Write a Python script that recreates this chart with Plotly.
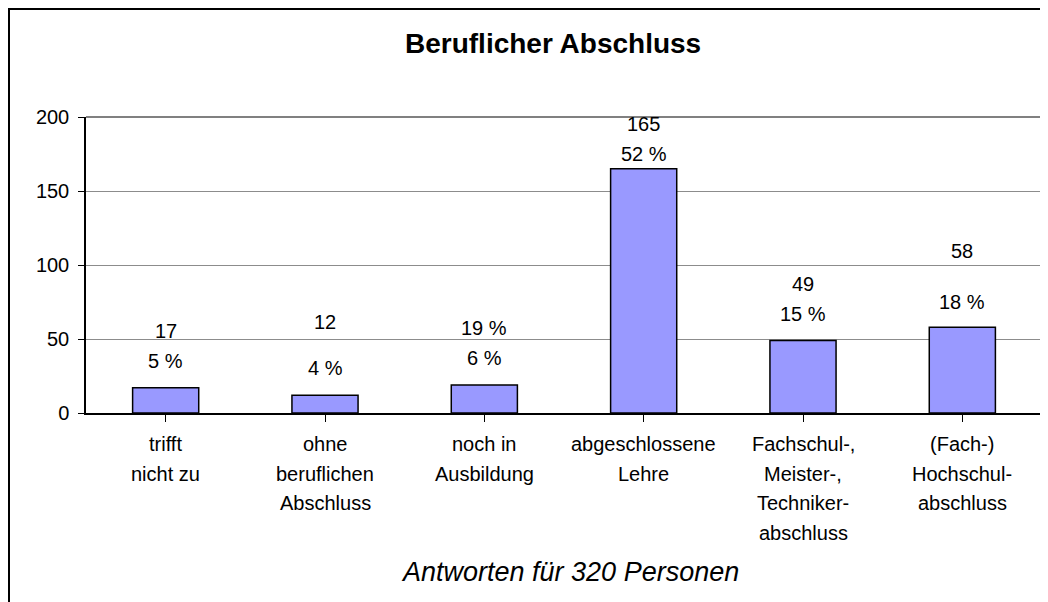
import plotly.graph_objects as go

# ---- data ----
categories = ["trifft\nnicht zu", "ohne\nberuflichen\nAbschluss", "noch in\nAusbildung",
              "abgeschlossene\nLehre", "Fachschul-,\nMeister-,\nTechniker-\nabschluss",
              "(Fach-)\nHochschul-\nabschluss"]
counts = [17, 12, 19, 165, 49, 58]
count_labels = ["17", "12", "19 %", "165", "49", "58"]
pct_labels = ["5 %", "4 %", "6 %", "52 %", "15 %", "18 %"]
y_ticks = [0, 50, 100, 150, 200]
title_text = "Beruflicher Abschluss"
subtitle_text = "Antworten für 320 Personen"

# ---- layout (pixel geometry, in reference-window coordinates) ----
OFF = 8                      # page body margin
W, H = 1048 - OFF, 602 - OFF
L, R, T, B = 86, 1042, 117, 413
count_shift = [57, 73, 57, 45, 56, 76]
pct_shift = [27, 27, 27, 15, 26, 25]
FONT = "Liberation Sans, Arial, sans-serif"
LBL = 20

def px2x(px):
    return (px - L) / (R - L)

def py2y(py):
    return (B - py) / (B - T)

cat_ids = list(range(len(categories)))

fig = go.Figure()
fig.add_trace(go.Bar(
    x=cat_ids, y=counts,
    marker=dict(color="#9999FF", line=dict(color="black", width=1.5)),
    width=0.415, hoverinfo="skip",
))

ann = []
for i, v in enumerate(counts):
    ann.append(dict(x=i, y=v, xref="x", yref="y", text=count_labels[i], showarrow=False,
                    yshift=count_shift[i], yanchor="middle", font=dict(size=LBL, color="black", family=FONT)))
    ann.append(dict(x=i, y=v, xref="x", yref="y", text=pct_labels[i], showarrow=False,
                    yshift=pct_shift[i], yanchor="middle", font=dict(size=LBL, color="black", family=FONT)))
    for j, line in enumerate(categories[i].split("\n")):
        ann.append(dict(x=i, y=0, xref="x", yref="y", text=line, showarrow=False,
                        yshift=-(31 + 29.5 * j), yanchor="middle",
                        font=dict(size=LBL, color="black", family=FONT)))

ann.append(dict(x=px2x(553), y=py2y(44), xref="paper", yref="paper", text="<b>" + title_text + "</b>",
                showarrow=False, xanchor="center", yanchor="middle",
                font=dict(size=28, color="black", family=FONT)))
ann.append(dict(x=px2x(570), y=py2y(572), xref="paper", yref="paper", text="<i>" + subtitle_text + "</i>",
                showarrow=False, xanchor="center", yanchor="middle",
                font=dict(size=27, color="black", family=FONT)))

shapes = [
    # outer chart border (left and top visible)
    dict(type="line", xref="paper", yref="paper", x0=px2x(9), x1=px2x(9), y0=py2y(9), y1=py2y(610),
         line=dict(color="black", width=2)),
    dict(type="line", xref="paper", yref="paper", x0=px2x(8), x1=px2x(1060), y0=py2y(9), y1=py2y(9),
         line=dict(color="black", width=2)),
    # plot area border top/right (gray)
    dict(type="line", xref="paper", yref="paper", x0=0, x1=1, y0=1, y1=1,
         line=dict(color="#808080", width=2)),
    dict(type="line", xref="paper", yref="paper", x0=1, x1=1, y0=0, y1=1,
         line=dict(color="#808080", width=2)),
]

fig.update_layout(
    width=W, height=H,
    margin=dict(l=L - OFF, r=W - (R - OFF), t=T - OFF, b=H - (B - OFF), pad=0),
    paper_bgcolor="white", plot_bgcolor="white",
    showlegend=False,
    annotations=ann, shapes=shapes,
    font=dict(family=FONT, size=LBL, color="black"),
)
fig.update_xaxes(
    range=[-0.5, len(categories) - 0.5], tickmode="array", tickvals=cat_ids,
    showticklabels=False, tickson="boundaries", ticks="outside", ticklen=7,
    tickcolor="black", tickwidth=1, showline=True, linecolor="black", linewidth=1.5,
    showgrid=False, zeroline=False, fixedrange=True,
)
fig.update_yaxes(
    range=[0, 200], tickmode="array", tickvals=y_ticks,
    ticks="outside", ticklen=6, tickcolor="black", tickwidth=1,
    showline=True, linecolor="black", linewidth=1.5,
    showgrid=True, gridcolor="#8c8c8c", gridwidth=1, zeroline=False,
    tickfont=dict(size=LBL, color="black", family=FONT), ticklabelstandoff=5,
    fixedrange=True,
)

fig.write_html("out.html", config={"displayModeBar": False})
